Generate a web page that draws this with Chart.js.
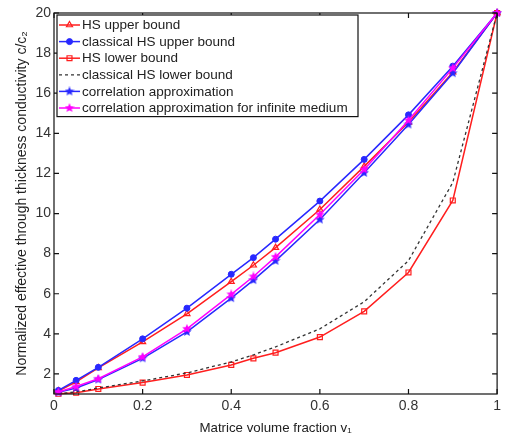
<!DOCTYPE html>
<html>
<head>
<meta charset="utf-8">
<script src="https://cdn.jsdelivr.net/npm/chart.js@4.4.1/dist/chart.umd.min.js"></script>
<style>
  html, body { margin: 0; padding: 0; background: #fff; }
  canvas { display: block; }
</style>
</head>
<body>
<canvas id="conductivityChart" width="505" height="441"></canvas>
<script>
// matrice volume fraction v1
const volumeFraction = [0.01, 0.05, 0.1, 0.2, 0.3, 0.4, 0.45, 0.5, 0.6, 0.7, 0.8, 0.9, 1];

const hsUpper        = [1.15, 1.6, 2.3, 3.6, 5.0, 6.6, 7.42, 8.3, 10.2, 12.35, 14.55, 17.05, 20];
const classicalUpper = [1.18, 1.68, 2.33, 3.75, 5.28, 6.97, 7.8, 8.72, 10.62, 12.7, 14.92, 17.35, 20];
const hsLower        = [1.01, 1.06, 1.25, 1.57, 1.95, 2.45, 2.78, 3.06, 3.84, 5.12, 7.06, 10.65, 20];
const classicalLower = [1.02, 1.1, 1.3, 1.65, 2.05, 2.6, 2.95, 3.35, 4.25, 5.6, 7.65, 11.55, 20];
const correlation    = [1.08, 1.3, 1.72, 2.78, 4.1, 5.78, 6.68, 7.64, 9.7, 12.03, 14.44, 17.0, 20];
const correlationInf = [1.1, 1.37, 1.76, 2.85, 4.25, 5.97, 6.86, 7.84, 9.95, 12.2, 14.65, 17.25, 20];

const seriesNames = [
  'HS upper bound',
  'classical HS upper bound',
  'HS lower bound',
  'classical HS lower bound',
  'correlation approximation',
  'correlation approximation for infinite medium'
];

const xTicks = [0, 0.2, 0.4, 0.6, 0.8, 1];
const yTicks = [2, 4, 6, 8, 10, 12, 14, 16, 18, 20];

const RED = 'rgb(255,30,30)';
const BLUE = 'rgb(40,40,255)';
const MAGENTA = 'rgb(255,0,255)';
const FONT = 'Liberation Sans, Arial, sans-serif';

// pentagram marker like matlab 'p'
function makeStar(color, size) {
  const c = document.createElement('canvas');
  c.width = size; c.height = size;
  const g = c.getContext('2d');
  const cx = size / 2, cy = size / 2, R = size / 2, r = R * 0.45;
  g.beginPath();
  for (let i = 0; i < 10; i++) {
    const rad = i % 2 === 0 ? R : r;
    const a = -Math.PI / 2 + i * Math.PI / 5;
    g.lineTo(cx + rad * Math.cos(a), cy + rad * Math.sin(a));
  }
  g.closePath();
  g.fillStyle = color;
  g.fill();
  return c;
}

const toPoints = ys => volumeFraction.map((x, i) => ({ x: x, y: ys[i] }));

const datasets = [
  { label: seriesNames[0], data: toPoints(hsUpper), borderColor: RED, backgroundColor: 'rgba(0,0,0,0)',
    pointStyle: 'triangle', pointRadius: 3.5, pointBorderWidth: 1.2, order: 5 },
  { label: seriesNames[1], data: toPoints(classicalUpper), borderColor: BLUE, backgroundColor: BLUE,
    pointStyle: 'circle', pointRadius: 3, pointBorderWidth: 1, order: 4 },
  { label: seriesNames[2], data: toPoints(hsLower), borderColor: RED, backgroundColor: 'rgba(0,0,0,0)',
    pointStyle: 'rect', pointRadius: 3.5, pointBorderWidth: 1.2, order: 3 },
  { label: seriesNames[3], data: toPoints(classicalLower), borderColor: '#333', backgroundColor: '#333',
    borderDash: [3, 3], borderWidth: 1.3, pointRadius: 0, order: 2 },
  { label: seriesNames[4], data: toPoints(correlation), borderColor: BLUE, backgroundColor: BLUE,
    pointStyle: makeStar(BLUE, 10), pointRadius: 5, order: 1 },
  { label: seriesNames[5], data: toPoints(correlationInf), borderColor: MAGENTA, backgroundColor: MAGENTA,
    pointStyle: makeStar(MAGENTA, 10), pointRadius: 5, order: 0 }
];
datasets.forEach(d => {
  if (d.borderWidth === undefined) d.borderWidth = 1.5;
  d.tension = 0;
  d.clip = false;
});

// box around the axes with inward ticks (matlab style)
const framePlugin = {
  id: 'frame',
  afterDatasetsDraw(chart) {
    const { ctx, chartArea: a, scales } = chart;
    ctx.save();
    ctx.strokeStyle = '#111';
    ctx.lineWidth = 1.2;
    ctx.strokeRect(a.left, a.top, a.right - a.left, a.bottom - a.top);
    ctx.beginPath();
    xTicks.forEach(v => {
      const px = scales.x.getPixelForValue(v);
      ctx.moveTo(px, a.bottom); ctx.lineTo(px, a.bottom - 5);
      ctx.moveTo(px, a.top); ctx.lineTo(px, a.top + 5);
    });
    yTicks.forEach(v => {
      const py = scales.y.getPixelForValue(v);
      ctx.moveTo(a.left, py); ctx.lineTo(a.left + 5, py);
      ctx.moveTo(a.right, py); ctx.lineTo(a.right - 5, py);
    });
    ctx.stroke();
    ctx.restore();
  }
};

// legend drawn inside the axes, top left
const boxLegend = {
  id: 'boxLegend',
  afterDraw(chart) {
    const ctx = chart.ctx;
    const left = 57, top = 15, right = 358, rowH = 16.6;
    const n = chart.data.datasets.length;
    const bottom = top + 2 + n * rowH;
    ctx.save();
    ctx.fillStyle = '#fff';
    ctx.fillRect(left, top, right - left, bottom - top);
    ctx.strokeStyle = '#111';
    ctx.lineWidth = 1.2;
    ctx.strokeRect(left, top, right - left, bottom - top);
    chart.data.datasets.forEach((ds, i) => {
      const y = top + 10 + i * rowH;
      ctx.beginPath();
      ctx.strokeStyle = ds.borderColor;
      ctx.lineWidth = ds.borderWidth;
      ctx.setLineDash(ds.borderDash || []);
      ctx.moveTo(59, y); ctx.lineTo(80, y);
      ctx.stroke();
      ctx.setLineDash([]);
      if (ds.pointRadius > 0) {
        ctx.fillStyle = ds.backgroundColor;
        ctx.lineWidth = ds.pointBorderWidth || 1;
        Chart.helpers.drawPoint(ctx, { pointStyle: ds.pointStyle, radius: ds.pointRadius, rotation: 0, borderWidth: ds.pointBorderWidth || 1 }, 69.5, y);
      }
      ctx.fillStyle = '#222';
      ctx.font = '13.5px ' + FONT;
      ctx.textBaseline = 'middle';
      ctx.fillText(ds.label, 82, y + 0.5);
    });
    ctx.restore();
  }
};

new Chart(document.getElementById('conductivityChart'), {
  type: 'line',
  data: { datasets: datasets },
  options: {
    responsive: false,
    animation: false,
    devicePixelRatio: 1,
    layout: { padding: { top: 13, right: 6, left: 0, bottom: 0 } },
    plugins: { legend: { display: false }, tooltip: { enabled: false } },
    scales: {
      x: {
        type: 'linear', min: 0, max: 1,
        afterBuildTicks: s => { s.ticks = xTicks.map(v => ({ value: v })); },
        afterFit: s => { s.height = 47; },
        grid: { display: false, drawTicks: false },
        border: { display: false },
        ticks: { color: '#333', padding: 4, font: { family: FONT, size: 14 },
          callback: v => String(v) },
        title: { display: true, text: 'Matrice volume fraction v₁', color: '#222',
          font: { family: FONT, size: 13.3 }, padding: { top: 0, bottom: 5 } }
      },
      y: {
        type: 'linear', min: 1, max: 20,
        afterBuildTicks: s => { s.ticks = yTicks.map(v => ({ value: v })); },
        afterFit: s => { s.width = 54; },
        grid: { display: false, drawTicks: false },
        border: { display: false },
        ticks: { color: '#333', padding: 3, font: { family: FONT, size: 14 } },
        title: { display: true, text: 'Normalized effective through thickness conductivity c/c₂', color: '#222',
          font: { family: FONT, size: 14 }, padding: { top: 14, bottom: 0 } }
      }
    }
  },
  plugins: [framePlugin, boxLegend]
});
</script>
</body>
</html>
